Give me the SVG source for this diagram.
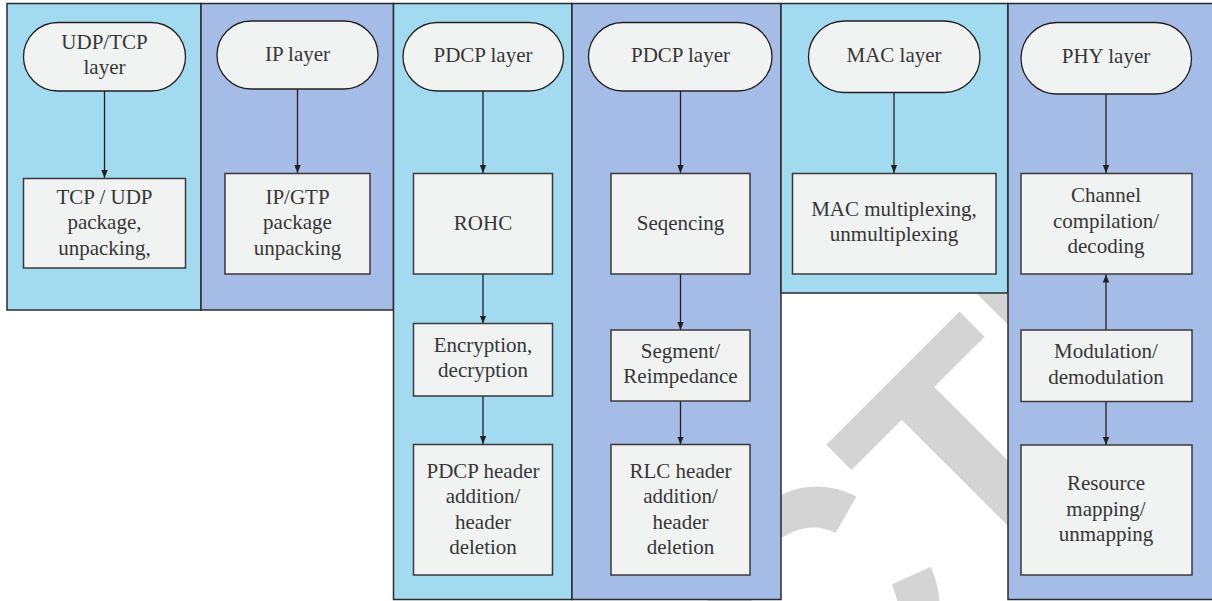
<svg xmlns="http://www.w3.org/2000/svg" width="1212" height="601" viewBox="0 0 1212 601">
  <defs>
    <marker id="arrow" viewBox="0 0 8 8" refX="8" refY="4" markerWidth="8" markerHeight="8" markerUnits="userSpaceOnUse" orient="auto">
      <path d="M0,0.8 L8,4 L0,7.2 Z" fill="#231f20"/>
    </marker>
    <style>
      .lane-a { fill: #a2dbef; stroke: #2b2b2b; stroke-width: 1.5; }
      .lane-b { fill: #a5bce6; stroke: #2b2b2b; stroke-width: 1.5; }
      .term { fill: #f1f2f2; stroke: #231f20; stroke-width: 1.3; }
      .proc { fill: #f1f2f2; stroke: #3a3a3a; stroke-width: 1.5; }
      .lbl { font-family: "Liberation Serif", "Times New Roman", serif; font-size: 21px; fill: #363636; text-anchor: middle; }
      .flow { stroke: #231f20; stroke-width: 1.3; fill: none; marker-end: url(#arrow); }
      .mark { font-family: "Liberation Sans", Arial, sans-serif; font-weight: bold; font-size: 320px; fill: #d4d4d4; }
    </style>
  </defs>

  <rect x="0" y="0" width="1212" height="601" fill="#ffffff"/>

  <!-- background stamp, mostly covered by the lanes -->
  <text class="mark" x="0" y="0" transform="translate(36.6,1545.7) rotate(-45)">RETRACTED</text>

  <!-- protocol lanes -->
  <g id="lanes">
    <rect class="lane-a" x="7" y="3.5" width="194" height="306.5"/>
    <rect class="lane-b" x="201" y="3.5" width="192.5" height="306.5"/>
    <rect class="lane-a" x="393.5" y="3.5" width="178.5" height="596"/>
    <rect class="lane-b" x="572" y="3.5" width="209" height="596"/>
    <rect class="lane-a" x="781" y="3.5" width="227" height="289.5"/>
    <rect class="lane-b" x="1008" y="3.5" width="206" height="596"/>
  </g>

  <!-- connectors -->
  <g id="connectors">
    <line class="flow" x1="104.5" y1="91" x2="104.5" y2="178"/>
    <line class="flow" x1="297.5" y1="89" x2="297.5" y2="173"/>
    <line class="flow" x1="483" y1="91" x2="483" y2="173"/>
    <line class="flow" x1="483" y1="274" x2="483" y2="323.5"/>
    <line class="flow" x1="483" y1="396" x2="483" y2="444"/>
    <line class="flow" x1="680.5" y1="91" x2="680.5" y2="173"/>
    <line class="flow" x1="680.5" y1="274" x2="680.5" y2="330"/>
    <line class="flow" x1="680.5" y1="401" x2="680.5" y2="444.5"/>
    <line class="flow" x1="894" y1="93" x2="894" y2="173"/>
    <line class="flow" x1="1106" y1="94" x2="1106" y2="173"/>
    <line class="flow" x1="1106" y1="330" x2="1106" y2="274.5"/>
    <line class="flow" x1="1106" y1="402" x2="1106" y2="445"/>
  </g>

  <!-- UDP/TCP lane -->
  <g id="udp-tcp-layer">
    <rect class="term" x="23.5" y="22.5" width="162" height="68.5" rx="34.25"/>
    <text class="lbl" x="104.5" y="49">UDP/TCP</text>
    <text class="lbl" x="104.5" y="73.5">layer</text>
  </g>
  <g id="tcp-udp-packing">
    <rect class="proc" x="23.5" y="178.5" width="162" height="89.5"/>
    <text class="lbl" x="104.5" y="203.5">TCP / UDP</text>
    <text class="lbl" x="104.5" y="229">package,</text>
    <text class="lbl" x="104.5" y="254.5">unpacking,</text>
  </g>

  <!-- IP lane -->
  <g id="ip-layer">
    <rect class="term" x="217" y="21" width="161" height="68" rx="34"/>
    <text class="lbl" x="297.5" y="61">IP layer</text>
  </g>
  <g id="ip-gtp-packing">
    <rect class="proc" x="225" y="173.5" width="145" height="100.5"/>
    <text class="lbl" x="297.5" y="203.5">IP/GTP</text>
    <text class="lbl" x="297.5" y="229">package</text>
    <text class="lbl" x="297.5" y="254.5">unpacking</text>
  </g>

  <!-- PDCP lane -->
  <g id="pdcp-layer">
    <rect class="term" x="403" y="22.5" width="160.5" height="68.5" rx="34.25"/>
    <text class="lbl" x="483" y="62">PDCP layer</text>
  </g>
  <g id="rohc">
    <rect class="proc" x="413.5" y="173.5" width="139" height="100.5"/>
    <text class="lbl" x="483" y="230">ROHC</text>
  </g>
  <g id="encryption">
    <rect class="proc" x="413.5" y="323.5" width="139" height="72.5"/>
    <text class="lbl" x="483" y="352">Encryption,</text>
    <text class="lbl" x="483" y="376.5">decryption</text>
  </g>
  <g id="pdcp-header">
    <rect class="proc" x="413.5" y="444.5" width="139" height="130.5"/>
    <text class="lbl" x="483" y="477.5">PDCP header</text>
    <text class="lbl" x="483" y="503">addition/</text>
    <text class="lbl" x="483" y="528.5">header</text>
    <text class="lbl" x="483" y="554">deletion</text>
  </g>

  <!-- RLC lane -->
  <g id="rlc-pdcp-layer">
    <rect class="term" x="588.5" y="22.5" width="183.5" height="68.5" rx="34.25"/>
    <text class="lbl" x="680.5" y="62">PDCP layer</text>
  </g>
  <g id="sequencing">
    <rect class="proc" x="611" y="173.5" width="139" height="100.5"/>
    <text class="lbl" x="680.5" y="230">Seqencing</text>
  </g>
  <g id="segment">
    <rect class="proc" x="611" y="330" width="139" height="71"/>
    <text class="lbl" x="680.5" y="358">Segment/</text>
    <text class="lbl" x="680.5" y="382.5">Reimpedance</text>
  </g>
  <g id="rlc-header">
    <rect class="proc" x="611" y="444.5" width="139" height="130.5"/>
    <text class="lbl" x="680.5" y="477.5">RLC header</text>
    <text class="lbl" x="680.5" y="503">addition/</text>
    <text class="lbl" x="680.5" y="528.5">header</text>
    <text class="lbl" x="680.5" y="554">deletion</text>
  </g>

  <!-- MAC lane -->
  <g id="mac-layer">
    <rect class="term" x="808.5" y="21" width="171.5" height="71.5" rx="35.75"/>
    <text class="lbl" x="894" y="62">MAC layer</text>
  </g>
  <g id="mac-multiplexing">
    <rect class="proc" x="792.5" y="173.5" width="203.5" height="100.5"/>
    <text class="lbl" x="894" y="216">MAC multiplexing,</text>
    <text class="lbl" x="894" y="241">unmultiplexing</text>
  </g>

  <!-- PHY lane -->
  <g id="phy-layer">
    <rect class="term" x="1021" y="22.5" width="170.5" height="71.5" rx="35.75"/>
    <text class="lbl" x="1106" y="63">PHY layer</text>
  </g>
  <g id="channel-coding">
    <rect class="proc" x="1021" y="173.5" width="171" height="100.5"/>
    <text class="lbl" x="1106" y="202">Channel</text>
    <text class="lbl" x="1106" y="227.5">compilation/</text>
    <text class="lbl" x="1106" y="253">decoding</text>
  </g>
  <g id="modulation">
    <rect class="proc" x="1021" y="330" width="171" height="71.5"/>
    <text class="lbl" x="1106" y="358">Modulation/</text>
    <text class="lbl" x="1106" y="383.5">demodulation</text>
  </g>
  <g id="resource-mapping">
    <rect class="proc" x="1021" y="445" width="171" height="130"/>
    <text class="lbl" x="1106" y="490">Resource</text>
    <text class="lbl" x="1106" y="515.5">mapping/</text>
    <text class="lbl" x="1106" y="541">unmapping</text>
  </g>
</svg>
